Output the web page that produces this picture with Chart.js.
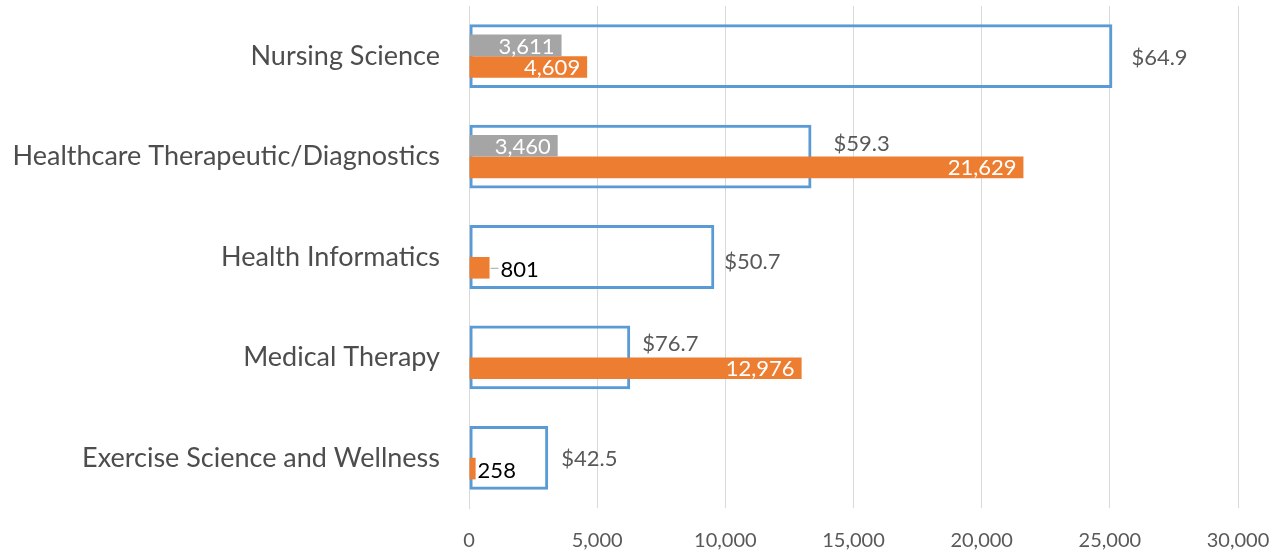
<!DOCTYPE html>
<html>
<head>
<meta charset="utf-8">
<script src="https://cdn.jsdelivr.net/npm/chart.js@4.4.0/dist/chart.umd.min.js"></script>
<style>
html,body{margin:0;padding:0;background:#fff;}
#wrap{width:1273px;height:556px;position:relative;}
</style>
</head>
<body>
<div id="wrap"><canvas id="c"></canvas></div>
<script>
const categories = ['Nursing Science','Healthcare Therapeutic/Diagnostics','Health Informatics','Medical Therapy','Exercise Science and Wellness'];
const grayValues = [3611, 3460, null, null, null];
const orangeValues = [4609, 21629, 801, 12976, 258];
const blueValues = [25100, 13360, 9570, 6290, 3090];
const salaryLabels = ['$64.9','$59.3','$50.7','$76.7','$42.5'];
const xTickValues = [0, 5000, 10000, 15000, 20000, 25000, 30000];

const FONT = 'Lato, "Noto Sans", sans-serif';
const fmt = v => v.toLocaleString('en-US');

const labelPlugin = {
  id: 'customLabels',
  afterDatasetsDraw(chart, args, opts) {
    const ctx = chart.ctx;
    ctx.save();
    ctx.font = '22px ' + FONT;
    ctx.textBaseline = 'middle';
    // gray & orange
    [0, 1].forEach(di => {
      const meta = chart.getDatasetMeta(di);
      const data = chart.data.datasets[di].data;
      meta.data.forEach((bar, i) => {
        const v = data[i];
        if (v == null) return;
        const w = bar.x - bar.base;
        if (w > 50) {
          ctx.fillStyle = '#ffffff';
          ctx.textAlign = 'right';
          ctx.fillText(fmt(v), bar.x - 7, bar.y + 1);
        } else {
          ctx.fillStyle = '#000000';
          ctx.textAlign = 'left';
          let tx = bar.x + 2;
          if (opts.leaders[i]) {
            ctx.strokeStyle = '#A6A6A6';
            ctx.lineWidth = 1;
            ctx.beginPath();
            ctx.moveTo(bar.x + 1, bar.y + 0.5);
            ctx.lineTo(bar.x + 9, bar.y + 0.5);
            ctx.stroke();
            tx = bar.x + 11;
          }
          ctx.fillText(fmt(v), tx, bar.y + 2);
        }
      });
    });
    // blue
    const meta = chart.getDatasetMeta(2);
    ctx.fillStyle = '#595959';
    ctx.textAlign = 'left';
    meta.data.forEach((bar, i) => {
      const off = opts.blueOffsets[i];
      ctx.fillText(salaryLabels[i], bar.x + off[0], bar.y + off[1]);
    });
    ctx.restore();
  }
};

new Chart(document.getElementById('c'), {
  type: 'bar',
  data: {
    labels: categories,
    datasets: [
      {
        label: 'Gray',
        data: grayValues,
        backgroundColor: '#A5A5A5',
        barPercentage: 1,
        categoryPercentage: 0.43
      },
      {
        label: 'Orange',
        data: orangeValues,
        backgroundColor: '#ED7D31',
        barPercentage: 1,
        categoryPercentage: 0.43
      },
      {
        label: 'Blue',
        data: blueValues,
        backgroundColor: 'rgba(0,0,0,0)',
        borderColor: '#5B9BD5',
        borderWidth: 3,
        borderSkipped: false,
        grouped: false,
        barPercentage: 1,
        categoryPercentage: 0.635
      }
    ]
  },
  options: {
    indexAxis: 'y',
    responsive: true,
    maintainAspectRatio: false,
    animation: false,
    layout: { padding: { top: 6, right: 35, left: 0, bottom: 0 } },
    plugins: {
      legend: { display: false },
      tooltip: { enabled: false },
      customLabels: {
        leaders: [false, false, true, false, false],
        blueOffsets: [[19, 2], [22, -13], [10, 5], [12, -13], [13, 1]]
      }
    },
    scales: {
      x: {
        min: 0,
        max: 30000,
        afterBuildTicks(scale) { scale.ticks = xTickValues.map(v => ({ value: v })); },
        afterFit(scale) { scale.height = 48; scale.paddingLeft = 0; scale.paddingRight = 0; },
        grid: { color: '#D9D9D9', lineWidth: 1, drawTicks: false },
        border: { display: false },
        ticks: {
          padding: 21,
          color: '#595959',
          font: { family: FONT, size: 20 },
          callback: v => fmt(v)
        }
      },
      y: {
        afterFit(scale) { scale.width = 469; scale.paddingTop = 0; scale.paddingBottom = 0; },
        grid: { display: false, drawTicks: false },
        border: { display: true, color: '#D9D9D9', width: 1 },
        ticks: {
          padding: 29,
          color: '#4D4D4D',
          font: { family: FONT, size: 27 }
        }
      }
    }
  },
  plugins: [labelPlugin]
});
</script>
</body>
</html>
